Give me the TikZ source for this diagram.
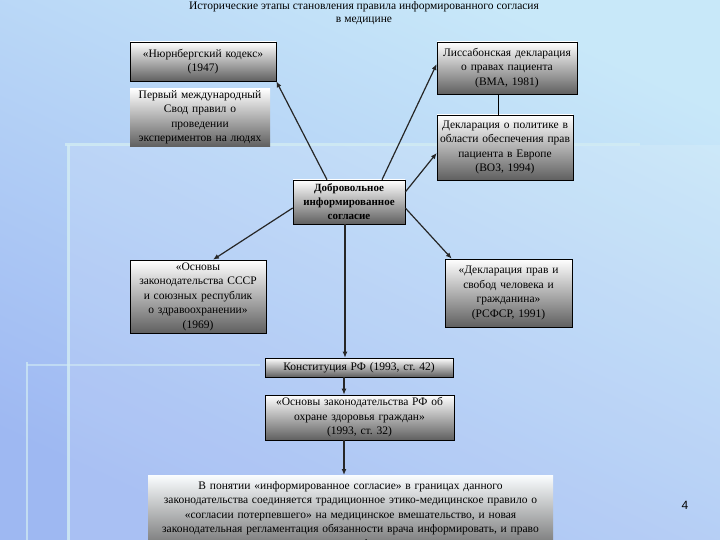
\documentclass[tikz,border=0pt]{standalone}
\usepackage{fontspec}
\setmainfont{Liberation Serif}
\newfontfamily\pagefont{Liberation Sans}
\frenchspacing
\usetikzlibrary{
    positioning,
    arrows.meta
}
\definecolor{bgtop}{HTML}{C8E8F9}
\definecolor{bgbottom}{HTML}{9EB8F2}
\definecolor{stripe}{HTML}{D2ECF3}
\tikzset{
    >={Latex[length=6pt,width=5pt]},
    box/.style={
        draw=black,
        line width=0.6pt,
        top color=white,
        bottom color=gray!75!black,
        align=center,
        inner sep=2pt,
        font=\fontsize{11.5}{14.5}\selectfont
    },
    flatbox/.style={
        box,
        draw=none
    },
    link/.style={
        ->,
        line width=1.2pt,
        black!85
    }
}

\begin{document}
\begin{tikzpicture}[
    x=1pt,
    y=-1pt
]

    % Фон
    \useasboundingbox (0,0) rectangle (720,540);
    \shade[top color=bgtop, bottom color=bgbottom, shading angle=-25] (0,0) rectangle (720,540);
    \fill[white, opacity=0.12] (68,145) rectangle (720,540);
    \draw[stripe, line width=3pt, opacity=0.8] (65,145) -- (640,145);
    \draw[stripe, line width=3pt, opacity=0.8] (68,145) -- (68,540);
    \draw[stripe, line width=1.5pt, opacity=0.7] (27,362) -- (27,540);
    \draw[stripe, line width=1.5pt, opacity=0.6] (27,365) -- (260,365);

    % Заголовок
    \node[align=center, font=\fontsize{11.5}{13}\selectfont] (title) at (364,13.5)
        {Исторические этапы становления правила информированного согласия\\в медицине};

    % Документы
    \node[box, text width=142pt, minimum height=39pt] (nurnb) at (203,61.5)
        {«Нюрнбергский кодекс»\\(1947)};
    \node[flatbox, text width=136pt, minimum height=55pt] (first) at (200,117.5)
        {Первый международный\\Свод правил о\\проведении\\экспериментов на людях};
    \node[box, text width=136pt, minimum height=52pt] (lisbon) at (507,68)
        {Лиссабонская декларация\\о правах пациента\\(ВМА, 1981)};
    \node[box, text width=132pt, minimum height=65pt] (who) at (505,147.5)
        {Декларация о политике в\\области обеспечения прав\\пациента в Европе\\(ВОЗ, 1994)};
    \node[box, text width=108pt, minimum height=44pt, font=\fontsize{11}{14}\selectfont\bfseries] (consent) at (349,202)
        {Добровольное\\информированное\\согласие};
    \node[box, text width=132pt, minimum height=73pt] (ussr) at (198,296.5)
        {«Основы\\законодательства СССР\\и союзных республик\\о здравоохранении»\\(1969)};
    \node[box, text width=123pt, minimum height=68pt] (rsfsr) at (508.5,293)
        {«Декларация прав и\\свобод человека и\\гражданина»\\(РСФСР, 1991)};
    \node[box, text width=184pt, minimum height=19pt] (konst) at (359,367.5)
        {Конституция РФ (1993, ст. 42)};
    \node[box, text width=185pt, minimum height=45pt] (osnrf) at (359.5,417.5)
        {«Основы законодательства РФ об\\охране здоровья граждан»\\(1993, ст. 32)};
    \node[flatbox, top color=white!90!bgtop, bottom color=gray!80!black, text width=401pt, minimum height=80pt, anchor=north] (final) at (350.5,475)
        {В понятии «информированное согласие» в границах данного\\
         законодательства соединяется традиционное этико-медицинское правило о\\
         «согласии потерпевшего» на медицинское вмешательство, и новая\\
         законодательная регламентация обязанности врача информировать, и право\\
         пациента на информацию};

    % Номер слайда
    \node[font=\pagefont\fontsize{12}{14}\selectfont] (pagenum) at (685,505) {4};

    % Связи
    \draw[link] ([xshift=-22pt]consent.north) -- (nurnb.south east);
    \draw[link] ([xshift=33pt]consent.north) -- ([yshift=4pt]lisbon.west);
    \draw[link] ([yshift=10pt]consent.east) -- ([yshift=-5.5pt]who.west);
    \draw[line width=0.6pt] ([xshift=-9pt]lisbon.south) -- ([xshift=-9pt]lisbon.south |- who.north);
    \draw[link] ([yshift=-6pt]consent.west) -- ([xshift=15pt]ussr.north);
    \draw[link] ([yshift=-6pt]consent.east) -- ([xshift=7pt]rsfsr.north west);
    \draw[link] ([xshift=-4pt]consent.south) -- ([xshift=-4pt]consent.south |- konst.north);
    \draw[link] ([xshift=-15pt]konst.south) -- ([xshift=-15pt]konst.south |- osnrf.north);
    \draw[link] ([xshift=-15.5pt]osnrf.south) -- ([xshift=-15.5pt]osnrf.south |- final.north);

\end{tikzpicture}
\end{document}
